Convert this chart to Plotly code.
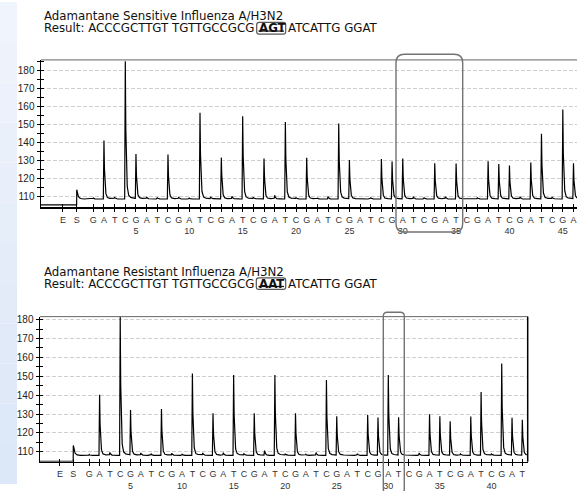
import numpy as np
import plotly.graph_objects as go

W, H = 577, 491

# ---------------- data ----------------
top_title = "Adamantane Sensitive Influenza A/H3N2"
top_result_prefix = "Result: ACCCGCTTGT TGTTGCCGCG"
top_result_codon = "AGT"
top_result_suffix = "ATCATTG GGAT"

bottom_title = "Adamantane Resistant Influenza A/H3N2"
bottom_result_prefix = "Result: ACCCGCTTGT TGTTGCCGCG"
bottom_result_codon = "AAT"
bottom_result_suffix = "ATCATTG GGAT"

control_labels = ["E", "S"]
control_positions = [-1.85, -0.55]

top_dispensations = list("GATCGATCGATCGATCGATCGATCGATCGATCGATCGATCGATCGA")      # 46
bottom_dispensations = list("GATCGATCGATCGATCGATCGATCGATCGATCGATCGATCGAT")      # 43

# peak top readings (signal units) for each dispensation
top_peak_values = [108.9, 141.0, 109.3, 185.0, 133.2, 109.4, 109.2, 133.2, 109.4, 108.9,
                   156.4, 109.4, 131.4, 109.8, 154.4, 109.2, 130.9, 110.4, 151.3, 109.0,
                   131.4, 108.8, 109.8, 150.4, 130.0, 108.7, 109.2, 130.6, 129.2, 130.9,
                   109.6, 109.2, 128.3, 109.6, 128.1, 108.6, 109.2, 129.4, 127.8, 126.9,
                   109.6, 128.7, 144.6, 109.3, 158.2, 128.1]
bottom_peak_values = [108.6, 140.2, 109.5, 181.5, 131.9, 109.3, 108.8, 132.6, 109.2, 108.7,
                      151.5, 109.2, 130.4, 109.5, 150.6, 108.8, 130.4, 110.6, 150.6, 108.7,
                      130.4, 108.6, 109.6, 148.0, 128.7, 108.4, 109.0, 129.5, 128.1, 150.6,
                      128.1, 108.4, 109.4, 129.9, 128.7, 126.1, 108.8, 128.7, 141.6, 108.9,
                      156.7, 127.8, 126.9]

top_levels = dict(pre=105.1, start=113.6, base=108.4)
bottom_levels = dict(pre=105.0, start=113.4, base=108.1)

y_ticks = [110, 120, 130, 140, 150, 160, 170, 180]
y_minor = [115, 125, 135, 145, 155, 165, 175, 185]

top_xrange = [-3.9, 46.33]
bottom_xrange = [-3.78, 43.52]
top_yrange = [103.7, 185.8]
bottom_yrange = [104.75, 181.6]


# ---------------- helpers ----------------
def pyrogram(xr, levels, values):
    xs = np.round(np.arange(round(xr[0] * 100), round(xr[1] * 100) + 1) / 100.0, 2)
    base = levels["base"]
    y = np.full(xs.shape, base)
    s = control_positions[1]
    y[xs < s] = levels["pre"]
    d = xs - s
    m = d >= 0
    y[m] += (levels["start"] - base) * np.exp(-d[m] / 0.12)
    for i, v in enumerate(values):
        p = i + 1
        h = v - base
        d = xs - p
        rise = (d > -0.06) & (d < 0)
        y[rise] += h * (1 + d[rise] / 0.06)
        dec = d >= 0
        y[dec] += h * (0.965 * np.exp(-d[dec] / 0.07) + 0.035 * np.exp(-d[dec] / 0.45))
    return xs, y


def ticks_for(disp):
    vals = list(control_positions) + list(range(1, len(disp) + 1))
    text = list(control_labels)
    for i, c in enumerate(disp):
        n = i + 1
        text.append(f"{c}<br>{n}" if n % 5 == 0 else c)
    return vals, text


def px(x):
    return x / W


def py(y):
    return 1 - y / H


def rrect(x0, y0, x1, y1, r):
    pts = [("M", x0 + r, y0), ("L", x1 - r, y0), ("Q", x1, y0, x1, y0 + r), ("L", x1, y1 - r),
           ("Q", x1, y1, x1 - r, y1), ("L", x0 + r, y1), ("Q", x0, y1, x0, y1 - r),
           ("L", x0, y0 + r), ("Q", x0, y0, x0 + r, y0)]
    out = []
    for seg in pts:
        cmd = seg[0]
        coords = seg[1:]
        s = []
        for k in range(0, len(coords), 2):
            s.append(f"{px(coords[k]):.5f},{py(coords[k+1]):.5f}")
        out.append(cmd + " " + " ".join(s))
    return " ".join(out) + " Z"


FONT = "Liberation Sans, Arial, sans-serif"
TFONT = "DejaVu Sans, Verdana, sans-serif"
fig = go.Figure()

panels = [
    dict(x="x", y="y", xo="x3", yo="y3", disp=top_dispensations, vals=top_peak_values,
         levels=top_levels, xr=top_xrange, yr=top_yrange,
         dom_x=[px(41), 1.0], dom_y=[py(209.3), py(59)]),
    dict(x="x2", y="y2", xo="x4", yo="y4", disp=bottom_dispensations, vals=bottom_peak_values,
         levels=bottom_levels, xr=bottom_xrange, yr=bottom_yrange,
         dom_x=[px(40), px(527.7)], dom_y=[py(468.3), py(320.5)]),
]

for k, pnl in enumerate(panels):
    xs, ys = pyrogram(pnl["xr"], pnl["levels"], pnl["vals"])
    fig.add_trace(go.Scatter(x=xs, y=ys, mode="lines", line=dict(color="black", width=1.2),
                             xaxis=pnl["x"], yaxis=pnl["y"], hoverinfo="skip"))
    fig.add_trace(go.Scatter(x=[None], y=[None], xaxis=pnl["xo"], yaxis=pnl["yo"], showlegend=False))
    tv, tt = ticks_for(pnl["disp"])
    xname = "xaxis" if pnl["x"] == "x" else "xaxis" + pnl["x"][1:]
    yname = "yaxis" if pnl["y"] == "y" else "yaxis" + pnl["y"][1:]
    xoname = "xaxis" + pnl["xo"][1:]
    yoname = "yaxis" + pnl["yo"][1:]
    fig.update_layout({
        xname: dict(domain=pnl["dom_x"], range=pnl["xr"], anchor=pnl["y"], tickmode="array",
                    tickvals=tv, ticktext=tt, ticks="outside", ticklen=3, tickwidth=1,
                    tickcolor="black", showline=True, linecolor="black", linewidth=1.5,
                    showgrid=False, zeroline=False, tickangle=0,
                    tickfont=dict(family=FONT, size=9, color="#333")),
        yname: dict(domain=pnl["dom_y"], range=pnl["yr"], anchor=pnl["x"], tickmode="array",
                    tickvals=y_ticks, ticks="outside", ticklen=3, tickwidth=1, tickcolor="black",
                    minor=dict(tickmode="array", tickvals=y_minor, ticks="outside", ticklen=3,
                               tickwidth=1, tickcolor="black"),
                    showline=True, linecolor="black", linewidth=1.5, showgrid=True,
                    gridcolor="#cfcfcf", griddash="4px,2px", gridwidth=1, zeroline=False,
                    tickfont=dict(family=FONT, size=10, color="#222")),
        xoname: dict(overlaying=pnl["x"], anchor=pnl["y"], range=pnl["xr"], tickmode="array",
                     tickvals=tv, ticks="inside", ticklen=3, tickwidth=1, tickcolor="black",
                     showticklabels=False, showline=False, showgrid=False, zeroline=False),
        yoname: dict(overlaying=pnl["y"], anchor=pnl["x"], range=pnl["yr"], tickmode="array",
                     tickvals=y_ticks, ticks="inside", ticklen=3, tickwidth=1, tickcolor="black",
                     minor=dict(tickmode="array", tickvals=y_minor, ticks="inside", ticklen=3,
                                tickwidth=1, tickcolor="black"),
                     showticklabels=False, showline=False, showgrid=False, zeroline=False),
    })

shapes = []
# left blue strip (vertical gradient in bands)
nb = 12
c0 = np.array([0xf0, 0xf4, 0xfc])
c1 = np.array([0xdc, 0xe7, 0xf8])
for i in range(nb):
    c = c0 + (c1 - c0) * (i / (nb - 1))
    shapes.append(dict(type="rect", xref="paper", yref="paper", x0=0, x1=px(17),
                       y0=1 - (i + 1) / nb, y1=1 - i / nb, line=dict(width=0),
                       fillcolor="rgb(%d,%d,%d)" % tuple(c.astype(int)), layer="below"))
# frame lines
shapes.append(dict(type="line", xref="paper", yref="paper", x0=px(41), x1=1, y0=py(59), y1=py(59),
                   line=dict(color="#666", width=1)))
shapes.append(dict(type="line", xref="paper", yref="paper", x0=px(40), x1=px(527.7), y0=py(320.5),
                   y1=py(320.5), line=dict(color="#666", width=1)))
shapes.append(dict(type="line", xref="paper", yref="paper", x0=px(527.7), x1=px(527.7), y0=py(320.5),
                   y1=py(468.3), line=dict(color="black", width=1.5)))
# highlight boxes
shapes.append(dict(type="path", xref="paper", yref="paper", path=rrect(396, 53.3, 462.7, 234.3, 8.5),
                   line=dict(color="#737373", width=1.4)))
shapes.append(dict(type="path", xref="paper", yref="paper", path=rrect(383.3, 316, 404.3, 500, 4),
                   line=dict(color="#737373", width=1.4)))
shapes.append(dict(type="path", xref="paper", yref="paper", path=rrect(256.7, 20.7, 285.7, 32.7, 2.5),
                   line=dict(color="#555", width=1.2)))
shapes.append(dict(type="path", xref="paper", yref="paper", path=rrect(256.3, 281, 285.7, 292.7, 2.5),
                   line=dict(color="#555", width=1.2)))
# underlines of codons
shapes.append(dict(type="line", xref="paper", yref="paper", x0=px(258.5), x1=px(284), y0=py(29.6),
                   y1=py(29.6), line=dict(color="#111", width=1.2)))
shapes.append(dict(type="line", xref="paper", yref="paper", x0=px(258.5), x1=px(284), y0=py(289.8),
                   y1=py(289.8), line=dict(color="#111", width=1.2)))

ann = []
tf = dict(family=TFONT, size=11.8, color="#111")
for (title, pre, codon, suf, yt, yr) in [
    (top_title, top_result_prefix, top_result_codon, top_result_suffix, 14.4, 26.7),
    (bottom_title, bottom_result_prefix, bottom_result_codon, bottom_result_suffix, 275.1, 286.9),
]:
    common = dict(xref="paper", yref="paper", xanchor="left", yanchor="middle", showarrow=False,
                  font=tf, borderpad=0)
    ann.append(dict(text=title, x=px(43), y=py(yt), **common))
    ann.append(dict(text=pre, x=px(43), y=py(yr), **common))
    ann.append(dict(text="<b>" + codon + "</b>", x=px(258), y=py(yr), **common))
    ann.append(dict(text=suf, x=px(286.5), y=py(yr), **common))

fig.update_layout(width=W, height=H, margin=dict(l=0, r=0, t=0, b=0), showlegend=False,
                  paper_bgcolor="white", plot_bgcolor="white", shapes=shapes, annotations=ann)

fig.write_html("out.html", config={"displayModeBar": False, "staticPlot": True},
               post_script="document.body.style.margin='0px';document.body.style.overflow='hidden';")
